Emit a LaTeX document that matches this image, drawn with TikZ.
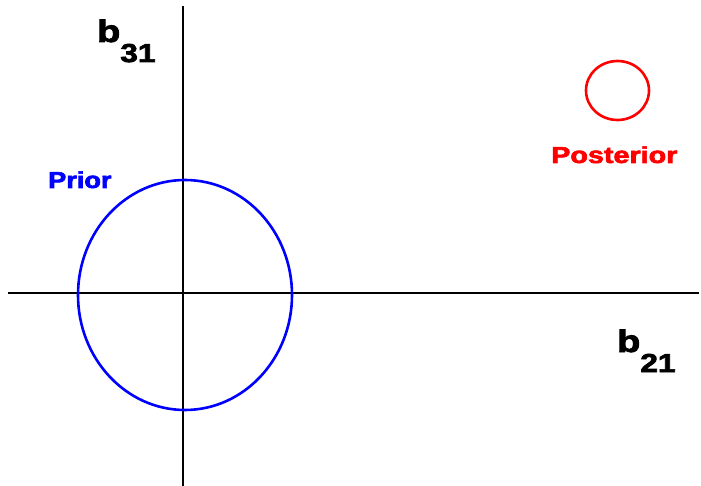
\documentclass[tikz,border=0pt]{standalone}
\usepackage{fontspec}
\usepackage{graphicx}
\setmainfont{Liberation Sans}
\newfontfamily\heavyfont[FakeBold=2.5]{Liberation Sans Bold}
\usetikzlibrary{shapes.geometric}
\tikzset{
  axisline/.style={draw=black, line width=2.2pt},
  region/.style={ellipse, draw, line width=2.6pt, inner sep=0pt},
  axlabel/.style={anchor=base west, inner sep=0pt, font=\heavyfont},
  reglabel/.style={anchor=base west, inner sep=0pt, font=\heavyfont\fontsize{23}{23}\selectfont},
}
\newcommand{\axname}[2]{\scalebox{1.22}[1]{{\fontsize{31}{31}\selectfont #1}\raisebox{-20pt}{\fontsize{26}{26}\selectfont #2}}}
\begin{document}
\begin{tikzpicture}[x=1pt,y=-1pt]
\useasboundingbox (0,0) rectangle (701,486);
\coordinate (xl) at (8,293);
\coordinate (xr) at (699,293);
\coordinate (yt) at (183,6);
\coordinate (yb) at (183,486);
\draw[axisline] (xl) -- (xr);
\draw[axisline] (yt) -- (yb);
\node[region, draw=blue, minimum width=214pt, minimum height=230pt] (prior) at (185,295) {};
\node[region, draw=red, minimum width=63pt, minimum height=59pt] (post) at (617.5,90.5) {};
\node[axlabel] (b31) at (97,42) {\axname{b}{31}};
\node[axlabel] (b21) at (617,352) {\axname{b}{21}};
\node[reglabel, text=blue] (priorlab) at (48,188) {\scalebox{1.18}[1]{Prior}};
\node[reglabel, text=red] (postlab) at (551,163) {\scalebox{1.25}[1]{Posterior}};
\end{tikzpicture}
\end{document}
